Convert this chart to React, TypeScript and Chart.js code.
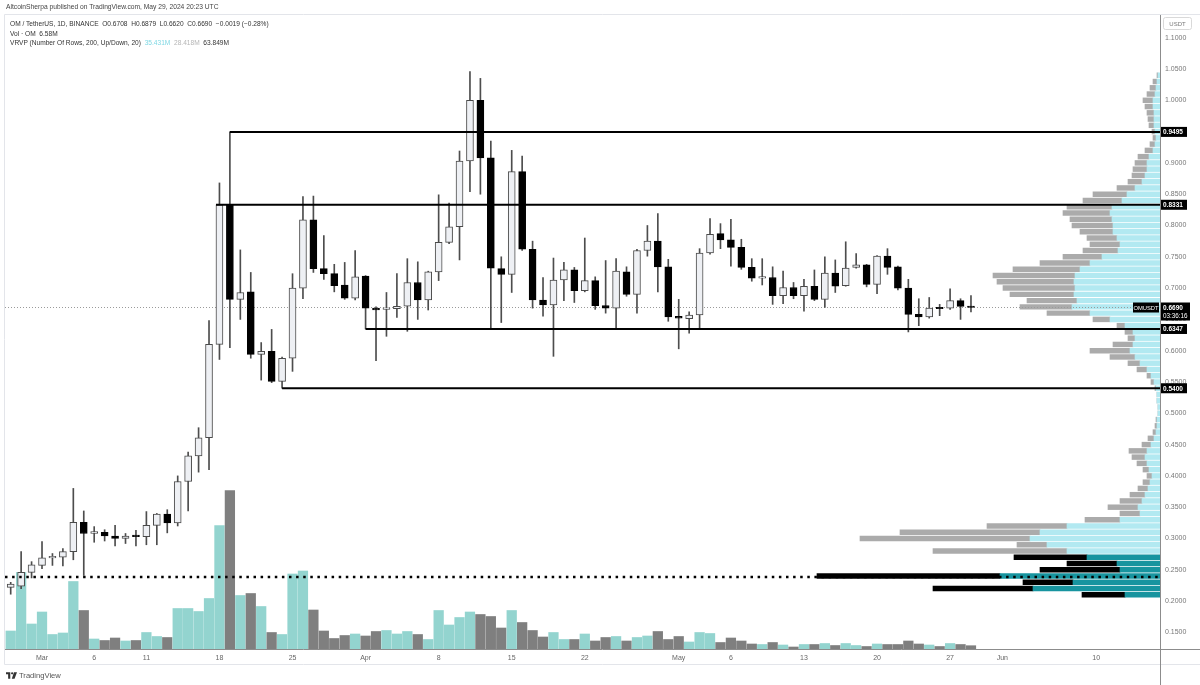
import React, { useEffect, useRef } from 'react';
import { Chart, registerables } from 'chart.js';

Chart.register(...registerables);

const FONT = '"Liberation Sans", Arial, sans-serif';

// Daily candles, Feb 27 2024 (index 0) .. May 29 2024 (index 92)
const opens = [0.222,0.224,0.246,0.257,0.269,0.270,0.279,0.326,0.308,0.310,
 0.304,0.300,0.305,0.303,0.321,0.339,0.325,0.391,0.432,0.461,
 0.610,0.8331,0.682,0.694,0.594,0.599,0.551,0.588,0.700,0.809,
 0.731,0.723,0.705,0.684,0.719,0.668,0.666,0.667,0.671,0.709,
 0.681,0.726,0.773,0.798,0.903,1.000,0.908,0.731,0.722,0.886,
 0.762,0.681,0.673,0.713,0.729,0.696,0.712,0.672,0.668,0.726,
 0.690,0.760,0.775,0.734,0.655,0.651,0.657,0.756,0.787,0.777,
 0.765,0.733,0.716,0.717,0.688,0.701,0.688,0.703,0.682,0.724,
 0.704,0.733,0.737,0.706,0.751,0.734,0.700,0.658,0.654,0.669,
 0.668,0.680,0.6708];
const highs = [0.230,0.279,0.263,0.295,0.276,0.284,0.380,0.344,0.319,0.314,
 0.321,0.308,0.313,0.343,0.340,0.346,0.400,0.438,0.477,0.648,
 0.868,0.9495,0.761,0.725,0.613,0.634,0.590,0.723,0.846,0.847,
 0.784,0.738,0.741,0.760,0.720,0.670,0.693,0.723,0.747,0.742,
 0.727,0.849,0.836,0.919,1.046,1.035,0.935,0.750,0.920,0.911,
 0.775,0.717,0.748,0.741,0.733,0.780,0.718,0.744,0.747,0.734,
 0.762,0.800,0.819,0.746,0.682,0.662,0.763,0.811,0.803,0.810,
 0.778,0.747,0.747,0.734,0.727,0.709,0.714,0.729,0.750,0.745,
 0.774,0.755,0.738,0.752,0.763,0.735,0.714,0.683,0.685,0.674,
 0.699,0.683,0.6879];
const lows = [0.211,0.220,0.237,0.252,0.257,0.256,0.266,0.241,0.294,0.296,
 0.288,0.292,0.288,0.290,0.290,0.309,0.320,0.344,0.406,0.410,
 0.586,0.605,0.650,0.588,0.553,0.549,0.540,0.567,0.683,0.725,
 0.714,0.694,0.682,0.681,0.6347,0.584,0.623,0.653,0.631,0.650,
 0.665,0.712,0.771,0.745,0.854,0.850,0.635,0.645,0.693,0.760,
 0.668,0.655,0.591,0.680,0.677,0.694,0.666,0.660,0.635,0.687,
 0.660,0.751,0.694,0.647,0.603,0.628,0.635,0.754,0.763,0.735,
 0.730,0.711,0.705,0.674,0.675,0.683,0.663,0.680,0.669,0.693,
 0.703,0.732,0.702,0.691,0.722,0.697,0.630,0.640,0.652,0.656,
 0.666,0.650,0.6620];
const closes = [0.227,0.246,0.258,0.269,0.271,0.279,0.326,0.308,0.311,0.304,
 0.300,0.304,0.303,0.321,0.339,0.325,0.391,0.432,0.461,0.610,
 0.8331,0.682,0.693,0.594,0.599,0.551,0.588,0.700,0.809,0.731,
 0.723,0.704,0.684,0.718,0.668,0.665,0.668,0.671,0.709,0.681,
 0.726,0.773,0.798,0.903,1.000,0.908,0.732,0.722,0.886,0.762,
 0.681,0.673,0.713,0.729,0.696,0.712,0.672,0.668,0.727,0.690,
 0.760,0.775,0.734,0.654,0.652,0.657,0.756,0.786,0.777,0.765,
 0.733,0.716,0.717,0.688,0.701,0.688,0.703,0.682,0.724,0.703,
 0.732,0.737,0.706,0.751,0.733,0.700,0.658,0.654,0.668,0.667,
 0.680,0.6708,0.6690];
// Volume, millions of OM
const volumes = [36,153,50,74,29,32,135,77,20,17,
 22,16,17,33,25,23,81,81,75,101,
 247,317,107,111,85,33,29,150,156,78,
 36,21,27,30,26,35,37,30,35,29,
 19,77,48,63,74,69,65,42,77,53,
 37,24,33,19,19,30,16,23,25,16,
 23,26,35,19,25,14,33,31,13,22,
 16,10,9,13,8,4,9,9,11,7,
 11,7,5,10,9,9,16,10,8,5,
 11,9,6.58];

// Time axis ticks (candle index -> label)
const timeTickIdx = [3, 8, 13, 20, 27, 34, 41, 48, 55, 64, 69, 76, 83, 90, 95, 104];
const timeTickLabels = ['Mar','6','11','18','25','Apr','8','15','22','May','6','13','20','27','Jun','10'];
// Price axis ticks
const priceTicks = [0.15,0.2,0.25,0.3,0.35,0.4,0.45,0.5,0.55,0.6,0.65,0.7,0.75,0.8,0.85,0.9,0.95,1.0,1.05,1.1];

// Horizontal levels drawn by the author (price, starting candle index)
const levelPrices = [0.9495, 0.8331, 0.6347, 0.5400];
const levelStartIdx = [21, 19.67, 34, 26];
const pocPrice = 0.2383;
const lastPrice = 0.6690;

// Visible-range volume profile rows (relative volume): up / down
const profPrices = [0.21,0.22,0.23,0.24,0.25,0.26,0.27,0.28,0.29,0.30,
 0.31,0.32,0.33,0.34,0.35,0.36,0.37,0.38,0.39,0.40,
 0.41,0.42,0.43,0.44,0.45,0.46,0.47,0.48,0.49,0.50,
 0.51,0.52,0.53,0.54,0.55,0.56,0.57,0.58,0.59,0.60,
 0.61,0.62,0.63,0.64,0.65,0.66,0.67,0.68,0.69,0.70,
 0.71,0.72,0.73,0.74,0.75,0.76,0.77,0.78,0.79,0.80,
 0.81,0.82,0.83,0.84,0.85,0.86,0.87,0.88,0.89,0.90,
 0.91,0.92,0.93,0.94,0.95,0.96,0.97,0.98,0.99,1.00,
 1.01,1.02,1.03,1.04];
const profUp = [35,127,87,160,40,43,73,93,113,130,
 120,93,40,20,22,18,15,12,10,8,
 11,13,15,13,9,6,4,3,3,2,
 2,3,3,4,6,9,13,20,25,30,
 27,25,27,35,50,70,88,83,86,85,
 86,85,80,70,58,42,40,43,47,47,
 48,50,48,38,33,25,18,15,13,13,
 11,7,5,4,5,6,6,6,7,7,
 5,4,3,2];
const profDown = [43,100,50,183,80,50,73,134,30,170,
 140,80,35,20,30,22,15,10,7,5,
 6,10,13,18,9,6,3,2,1,0,
 0,0,0,1,3,4,10,12,25,40,
 20,7,8,8,17,43,52,50,64,72,
 77,82,67,50,39,35,30,30,33,41,
 42,47,45,39,34,18,14,13,14,12,
 11,8,5,3,3,5,6,7,8,10,
 8,6,4,1];
const darkZoneTop = 0.275;

const X_MIN = -0.546, X_MAX = 110.11;
const Y_MIN = 0.12348, Y_MAX = 1.13626;
const VOL_MAX = 1268;
const PROF_MAX = 1155;

const overlayPlugin = {
  id: 'tvOverlay',
  afterDraw(chart: any) {
    const { ctx, chartArea: a } = chart;
    const ys = chart.scales.y;
    const W = chart.width, H = chart.height;
    ctx.save();
    ctx.lineWidth = 1;
    ctx.strokeStyle = '#e3e5ea';
    ctx.beginPath();
    ctx.moveTo(a.left - 0.5, a.top - 0.5); ctx.lineTo(W, a.top - 0.5);
    ctx.moveTo(a.left - 0.5, a.top - 0.5); ctx.lineTo(a.left - 0.5, a.bottom + 15.5);
    ctx.moveTo(a.left - 0.5, a.bottom + 15.5); ctx.lineTo(W, a.bottom + 15.5);
    ctx.stroke();
    ctx.strokeStyle = '#8c8c8c';
    ctx.beginPath();
    ctx.moveTo(a.left, a.bottom + 0.5); ctx.lineTo(W, a.bottom + 0.5);
    ctx.moveTo(a.right + 0.5, a.top); ctx.lineTo(a.right + 0.5, H);
    ctx.stroke();

    ctx.textBaseline = 'middle';
    // USDT box
    ctx.fillStyle = '#fff';
    ctx.strokeStyle = '#d9d9d9';
    ctx.beginPath();
    ctx.roundRect(a.right + 3.5, a.top + 2.5, 28, 12, 2);
    ctx.fill(); ctx.stroke();
    ctx.fillStyle = '#777';
    ctx.font = `6px ${FONT}`;
    ctx.textAlign = 'center';
    ctx.fillText('USDT', a.right + 17.5, a.top + 9);

    // level labels
    ctx.textAlign = 'left';
    levelPrices.forEach((p) => {
      const py = ys.getPixelForValue(p);
      ctx.fillStyle = '#000';
      ctx.fillRect(a.right + 1, py - 5, 26, 10);
      ctx.fillStyle = '#fff';
      ctx.font = `bold 6.5px ${FONT}`;
      ctx.fillText(p.toFixed(4), a.right + 3, py + 0.5);
    });
    // last price label
    const py = ys.getPixelForValue(lastPrice);
    ctx.fillStyle = '#000';
    ctx.fillRect(a.right + 1, py - 5, 29, 18);
    ctx.fillRect(a.right - 27, py - 5, 26, 10);
    ctx.fillStyle = '#fff';
    ctx.font = `bold 6.5px ${FONT}`;
    ctx.fillText(lastPrice.toFixed(4), a.right + 3, py + 0.5);
    ctx.font = `6.3px ${FONT}`;
    ctx.fillText('03:36:16', a.right + 3, py + 8.5);
    ctx.textAlign = 'center';
    ctx.font = `5.8px ${FONT}`;
    ctx.fillText('OMUSDT', a.right - 14, py + 0.5);
    ctx.restore();
  },
};

export default function App() {
  const ref = useRef<HTMLCanvasElement>(null);

  useEffect(() => {
    document.body.style.margin = '0';
    const idx = opens.map((_, i) => i);
    const up = (i: number) => closes[i] >= opens[i];
    const lineDs = (pts: { x: number; y: number }[], color: string, width: number, dash: number[], order: number) => ({
      type: 'line' as const,
      data: pts,
      borderColor: color,
      borderWidth: width,
      borderDash: dash,
      pointRadius: 0,
      xAxisID: 'x',
      yAxisID: 'y',
      order,
    });

    const datasets: any[] = [
      ...levelPrices.map((p, k) =>
        lineDs([{ x: levelStartIdx[k], y: p }, { x: X_MAX, y: p }], '#000', 2, [], 0)),
      lineDs([{ x: X_MIN, y: pocPrice }, { x: X_MAX, y: pocPrice }], '#000', 2.5, [2.5, 4.6], 0),
      lineDs([{ x: X_MIN, y: lastPrice }, { x: X_MAX, y: lastPrice }], '#9a9a9a', 1, [1, 2], 3),
      {
        type: 'bar',
        data: idx.map((i) => ({ x: i, y: [opens[i], closes[i]] })),
        backgroundColor: idx.map((i) => (up(i) ? '#eef0f4' : '#000')),
        borderColor: idx.map((i) => (up(i) ? '#4a4a4a' : '#000')),
        borderWidth: 1,
        borderSkipped: false,
        barThickness: 7,
        minBarLength: 1.5,
        grouped: false,
        xAxisID: 'x',
        yAxisID: 'y',
        order: 1,
      },
      {
        type: 'bar',
        data: idx.map((i) => ({ x: i, y: [lows[i], highs[i]] })),
        backgroundColor: '#4d4d4d',
        borderWidth: 0,
        barThickness: 1,
        grouped: false,
        xAxisID: 'x',
        yAxisID: 'y',
        order: 2,
      },
      {
        type: 'bar',
        data: idx.map((i) => ({ x: i, y: volumes[i] })),
        backgroundColor: idx.map((i) => (up(i) ? '#93d4cf' : '#7f7f7f')),
        borderWidth: 0,
        barThickness: 9.6,
        grouped: false,
        xAxisID: 'x',
        yAxisID: 'yVol',
        order: 6,
      },
      {
        type: 'bar',
        indexAxis: 'y',
        data: profPrices.map((p, k) => ({ x: profUp[k], y: p })),
        backgroundColor: profPrices.map((p) => (p <= darkZoneTop ? '#17949f' : '#b2e9f1')),
        borderWidth: 0,
        barThickness: 4.8,
        grouped: false,
        xAxisID: 'xProf',
        yAxisID: 'y',
        order: 5,
      },
      {
        type: 'bar',
        indexAxis: 'y',
        data: profPrices.map((p, k) => ({ x: profDown[k], y: p })),
        backgroundColor: profPrices.map((p) => (p <= darkZoneTop ? '#000' : '#ababab')),
        borderWidth: 0,
        barThickness: 4.8,
        grouped: false,
        xAxisID: 'xProf',
        yAxisID: 'y',
        order: 5,
      },
    ];

    const chart = new Chart(ref.current as HTMLCanvasElement, {
      type: 'bar',
      data: { datasets },
      options: {
        animation: false,
        responsive: false,
        maintainAspectRatio: false,
        devicePixelRatio: 1,
        layout: { padding: { left: 5, top: 15, right: 0, bottom: 0 } },
        plugins: { legend: { display: false }, tooltip: { enabled: false }, title: { display: false } },
        scales: {
          x: {
            type: 'linear',
            position: 'bottom',
            min: X_MIN,
            max: X_MAX,
            offset: false,
            bounds: 'data',
            grid: { display: false, drawTicks: false },
            border: { display: false },
            ticks: {
              autoSkip: false,
              maxRotation: 0,
              padding: 5,
              color: '#666',
              font: { size: 7, family: FONT },
              callback: (_v: any, i: number) => timeTickLabels[i],
            },
            afterBuildTicks: (s: any) => { s.ticks = timeTickIdx.map((v) => ({ value: v })); },
            afterFit: (s: any) => { s.height = 36; },
          },
          y: {
            type: 'linear',
            position: 'right',
            min: Y_MIN,
            max: Y_MAX,
            offset: false,
            bounds: 'data',
            beginAtZero: false,
            grid: { display: false, drawTicks: false },
            border: { display: false },
            ticks: {
              padding: 5,
              color: '#777',
              font: { size: 7, family: FONT },
              callback: (v: any) => Number(v).toFixed(4),
            },
            afterBuildTicks: (s: any) => { s.ticks = priceTicks.map((v) => ({ value: v })); },
            afterFit: (s: any) => { s.width = 40; },
          },
          yVol: { type: 'linear', axis: 'y', display: false, min: 0, max: VOL_MAX, offset: false },
          xProf: { type: 'linear', axis: 'x', display: false, min: 0, max: PROF_MAX, reverse: true, stacked: true, offset: false },
        },
      } as any,
      plugins: [overlayPlugin],
    });
    return () => chart.destroy();
  }, []);

  const txt: React.CSSProperties = { position: 'absolute', whiteSpace: 'pre', fontFamily: FONT, fontSize: 6.6, lineHeight: '8px', color: '#333' };

  return (
    <div style={{ position: 'relative', width: 1200, height: 685, background: '#fff', overflow: 'hidden' }}>
      <canvas ref={ref} width={1200} height={685} style={{ position: 'absolute', left: 0, top: 0 }} />
      <div style={{ ...txt, left: 6, top: 3, fontSize: 6.7, color: '#444' }}>AltcoinSherpa published on TradingView.com, May 29, 2024 20:23 UTC</div>
      <div style={{ ...txt, left: 10, top: 20 }}>OM / TetherUS, 1D, BINANCE  O0.6708  H0.6879  L0.6620  C0.6690  −0.0019 (−0.28%)</div>
      <div style={{ ...txt, left: 10, top: 29.5 }}>Vol · OM  6.58M</div>
      <div style={{ ...txt, left: 10, top: 39 }}>
        VRVP (Number Of Rows, 200, Up/Down, 20)  <span style={{ color: '#7fd8e4' }}>35.431M</span>  <span style={{ color: '#b5b5b5' }}>28.418M</span>  <span>63.849M</span>
      </div>
      <div style={{ position: 'absolute', left: 6, top: 671, display: 'flex', alignItems: 'center', gap: 2 }}>
        <svg width="11" height="7" viewBox="0 0 36 22">
          <path d="M0 0h14v22H7V7H0z M26 0h10l-8 22h-9z" fill="#333" />
          <circle cx="20" cy="4" r="3.6" fill="#333" />
        </svg>
        <span style={{ fontFamily: FONT, fontSize: 7.6, color: '#555' }}>TradingView</span>
      </div>
    </div>
  );
}
